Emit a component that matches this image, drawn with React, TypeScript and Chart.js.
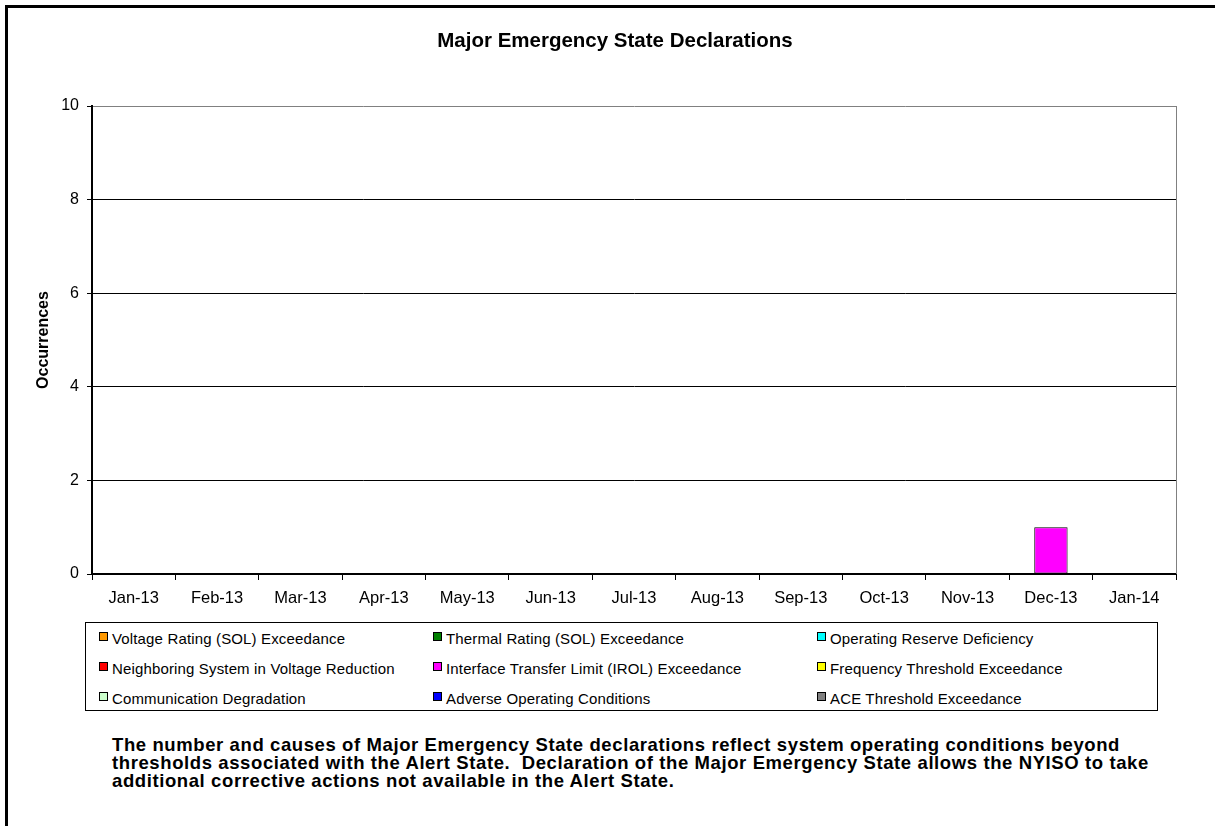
import React, { useEffect, useRef } from 'react';
import { Chart, registerables } from 'chart.js';

Chart.register(...registerables);

const FONT = '"Liberation Sans", Arial, sans-serif';

const chartTitle = 'Major Emergency State Declarations';
const yAxisTitle = 'Occurrences';
const categories = ['Jan-13', 'Feb-13', 'Mar-13', 'Apr-13', 'May-13', 'Jun-13', 'Jul-13', 'Aug-13', 'Sep-13', 'Oct-13', 'Nov-13', 'Dec-13', 'Jan-14'];
const yMin = 0;
const yMax = 10;
const yStep = 2;

const seriesNames = [
  'Voltage Rating (SOL) Exceedance',
  'Thermal Rating (SOL) Exceedance',
  'Operating Reserve Deficiency',
  'Neighboring System in Voltage Reduction',
  'Interface Transfer Limit (IROL) Exceedance',
  'Frequency Threshold Exceedance',
  'Communication Degradation',
  'Adverse Operating Conditions',
  'ACE Threshold Exceedance',
];
const seriesColors = ['#FF9900', '#008000', '#00FFFF', '#FF0000', '#FF00FF', '#FFFF00', '#CCFFCC', '#0000FF', '#808080'];

const voltageRating = [0, 0, 0, 0, 0, 0, 0, 0, 0, 0, 0, 0, 0];
const thermalRating = [0, 0, 0, 0, 0, 0, 0, 0, 0, 0, 0, 0, 0];
const operatingReserve = [0, 0, 0, 0, 0, 0, 0, 0, 0, 0, 0, 0, 0];
const neighboringSystem = [0, 0, 0, 0, 0, 0, 0, 0, 0, 0, 0, 0, 0];
const interfaceTransfer = [0, 0, 0, 0, 0, 0, 0, 0, 0, 0, 0, 1, 0];
const frequencyThreshold = [0, 0, 0, 0, 0, 0, 0, 0, 0, 0, 0, 0, 0];
const communicationDegradation = [0, 0, 0, 0, 0, 0, 0, 0, 0, 0, 0, 0, 0];
const adverseConditions = [0, 0, 0, 0, 0, 0, 0, 0, 0, 0, 0, 0, 0];
const aceThreshold = [0, 0, 0, 0, 0, 0, 0, 0, 0, 0, 0, 0, 0];

const seriesValues = [
  voltageRating,
  thermalRating,
  operatingReserve,
  neighboringSystem,
  interfaceTransfer,
  frequencyThreshold,
  communicationDegradation,
  adverseConditions,
  aceThreshold,
];

const footnoteLines = [
  'The number and causes of Major Emergency State declarations reflect system operating conditions beyond',
  'thresholds associated with the Alert State.  Declaration of the Major Emergency State allows the NYISO to take',
  'additional corrective actions not available in the Alert State.',
];

const legendColX = [14, 348, 732];
const legendRowY = [10, 40, 70];

const rightBorderPlugin = {
  id: 'rightBorder',
  afterDraw(chart: any) {
    const { ctx, chartArea } = chart;
    ctx.save();
    ctx.strokeStyle = '#808080';
    ctx.lineWidth = 1;
    ctx.beginPath();
    ctx.moveTo(Math.round(chartArea.right) + 0.5, chartArea.top);
    ctx.lineTo(Math.round(chartArea.right) + 0.5, chartArea.bottom);
    ctx.stroke();
    ctx.restore();
  },
};

export default function App() {
  const canvasRef = useRef<HTMLCanvasElement | null>(null);

  useEffect(() => {
    document.body.style.overflow = 'hidden';
    const canvas = canvasRef.current;
    if (!canvas) return;
    const chart = new Chart(canvas, {
      type: 'bar',
      data: {
        labels: categories,
        datasets: seriesNames.map((name, i) => ({
          label: name,
          data: seriesValues[i],
          backgroundColor: seriesColors[i],
          borderColor: '#000000',
          borderWidth: 1,
          borderSkipped: false,
          categoryPercentage: 0.8,
          barPercentage: 0.5,
        })),
      },
      options: {
        responsive: false,
        animation: false,
        events: [],
        layout: { padding: { left: 0, right: 31, top: 98, bottom: 0 } },
        plugins: {
          legend: { display: false },
          title: { display: false },
          tooltip: { enabled: false },
        },
        scales: {
          x: {
            stacked: true,
            grid: { offset: true, drawOnChartArea: false, drawTicks: true, tickLength: 6, tickColor: '#000000' },
            border: { color: '#000000', width: 2 },
            ticks: { font: { family: FONT, size: 16.5 }, color: '#000000', padding: 9, maxRotation: 0, autoSkip: false },
            afterFit(scale: any) {
              scale.height = 39;
            },
          },
          y: {
            stacked: true,
            min: yMin,
            max: yMax,
            ticks: { stepSize: yStep, font: { family: FONT, size: 16 }, color: '#000000', padding: 8 },
            grid: {
              color: (ctx: any) => (ctx.tick && ctx.tick.value === yMax ? '#808080' : '#000000'),
              lineWidth: 1,
              tickLength: 5,
              tickColor: '#000000',
            },
            border: { color: '#000000', width: 2 },
            title: {
              display: true,
              text: yAxisTitle,
              font: { family: FONT, size: 16, weight: 'bold' },
              color: '#000000',
              padding: { top: 26, bottom: 0 },
            },
            afterFit(scale: any) {
              scale.width = 84;
            },
          },
        },
      },
      plugins: [rightBorderPlugin],
    });
    return () => chart.destroy();
  }, []);

  return (
    <div style={{ position: 'relative', width: 1199, height: 810, fontFamily: FONT }}>
      <div
        style={{
          position: 'fixed',
          left: 5,
          top: 5,
          width: 1210,
          height: 821,
          borderTop: '3px solid #000',
          borderLeft: '3px solid #000',
          boxSizing: 'border-box',
          zIndex: 10,
          pointerEvents: 'none',
        }}
      />
      <canvas ref={canvasRef} width={1199} height={605} style={{ position: 'absolute', left: 0, top: 0, width: 1199, height: 605 }} />
      <div
        style={{
          position: 'absolute',
          left: 607 - 300,
          top: 32 - 12,
          width: 600,
          textAlign: 'center',
          fontWeight: 'bold',
          fontSize: 20.5,
          lineHeight: '24px',
          color: '#000',
        }}
      >
        {chartTitle}
      </div>
      <div
        style={{
          position: 'absolute',
          left: 77,
          top: 614,
          width: 1073,
          height: 89,
          border: '1px solid #000',
          boxSizing: 'border-box',
        }}
      >
        {seriesNames.map((name, i) => {
          const col = i % 3;
          const row = Math.floor(i / 3);
          return (
            <React.Fragment key={name}>
              <div
                style={{
                  position: 'absolute',
                  left: legendColX[col] - 1,
                  top: legendRowY[row] - 1,
                  width: 9,
                  height: 9,
                  background: seriesColors[i],
                  border: '1px solid #000',
                  boxSizing: 'border-box',
                }}
              />
              <div
                style={{
                  position: 'absolute',
                  left: legendColX[col] + 12,
                  top: legendRowY[row] - 3,
                  fontSize: 15,
                  lineHeight: '18px',
                  letterSpacing: '0.15px',
                  whiteSpace: 'pre',
                  color: '#000',
                }}
              >
                {name}
              </div>
            </React.Fragment>
          );
        })}
      </div>
      <div
        style={{
          position: 'absolute',
          left: 104,
          top: 728,
          fontWeight: 'bold',
          fontSize: 18.5,
          lineHeight: '18px',
          letterSpacing: '0.6px',
          whiteSpace: 'pre',
          color: '#000',
        }}
      >
        {footnoteLines.map((l) => (
          <div key={l}>{l}</div>
        ))}
      </div>
    </div>
  );
}
